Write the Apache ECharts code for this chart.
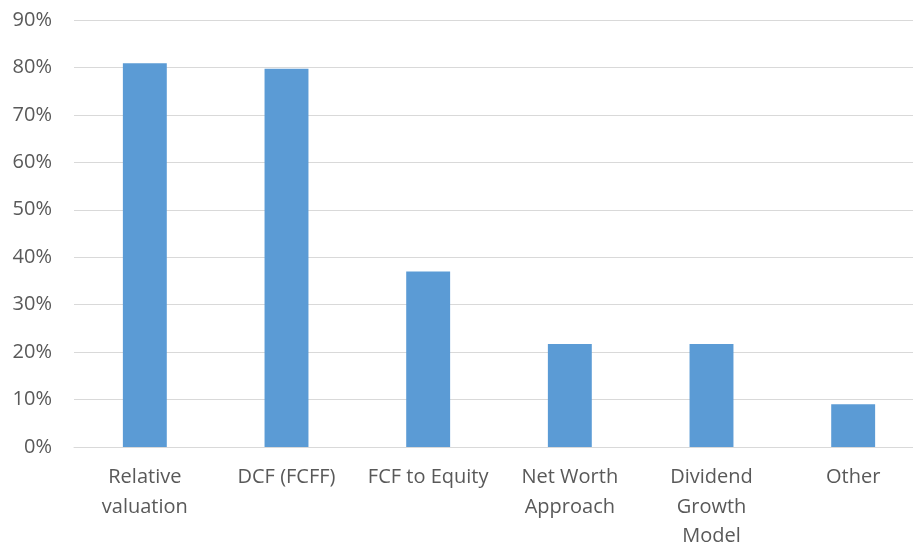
<!DOCTYPE html>
<html>
<head>
<meta charset="utf-8">
<script src="https://cdn.jsdelivr.net/npm/echarts@6/dist/echarts.min.js"></script>
<style>
  html, body { margin: 0; padding: 0; background: #fff; }
  #chart { width: 913px; height: 547px; }
</style>
</head>
<body>
<div id="chart"></div>
<script>
// valuation methods used (share of respondents, %)
var categories = ['Relative\nvaluation', 'DCF (FCFF)', 'FCF to Equity', 'Net Worth\nApproach', 'Dividend\nGrowth\nModel', 'Other']
var shares = [80.9, 79.7, 37.0, 21.7, 21.7, 9.0]

var chart = echarts.init(document.getElementById('chart'))
chart.setOption({
  animation: false,
  backgroundColor: '#ffffff',
  textStyle: { fontFamily: 'Open Sans, Noto Sans, sans-serif' },
  // plot area runs a bit past the right edge, like the cropped original
  grid: {
    top: 20,
    left: 74,
    right: -11,
    bottom: 100,
    containLabel: false,
    outerBoundsMode: 'none'
  },
  xAxis: {
    type: 'category',
    data: categories,
    axisLine: { lineStyle: { color: '#d9d9d9', width: 1 } },
    axisTick: { show: false },
    axisLabel: {
      interval: 0,
      margin: 16,
      color: '#595959',
      fontSize: 20,
      lineHeight: 29.5
    }
  },
  yAxis: {
    type: 'value',
    min: 0,
    max: 90,
    interval: 10,
    axisLine: { show: false },
    axisTick: { show: false },
    splitLine: { lineStyle: { color: '#d9d9d9', width: 1 } },
    axisLabel: {
      margin: 22,
      color: '#595959',
      fontSize: 20,
      formatter: '{value}%'
    }
  },
  series: [{
    type: 'bar',
    data: shares,
    barWidth: '31%',
    itemStyle: { color: '#5b9bd5' }
  }]
})
</script>
</body>
</html>
